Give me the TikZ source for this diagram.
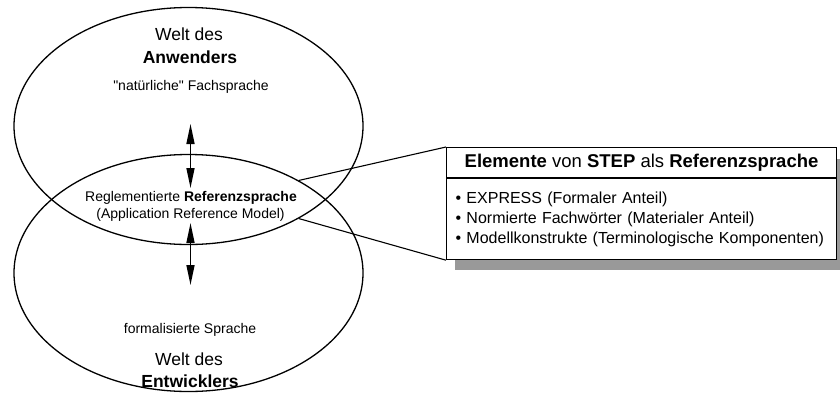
\documentclass[tikz,border=0pt]{standalone}
\usepackage{fontspec}
\setmainfont[Ligatures=TeXOff]{Liberation Sans}
\usepackage{tikz}
\usetikzlibrary{arrows.meta, positioning, shapes.geometric}

\begin{document}
\begin{tikzpicture}[
    x=1pt, y=-1pt,
    welt/.style={draw, ellipse, line width=1.3pt, inner sep=0pt,
                 minimum width=349pt, minimum height=237pt},
    txt/.style={font=\fontsize{14}{16}\selectfont, inner sep=0pt},
    big/.style={font=\fontsize{17.5}{20}\selectfont, inner sep=0pt},
    pfeil/.style={line width=1.5pt, {Triangle[length=20pt, width=8pt]}-{Triangle[length=20pt, width=8pt]}},
    kasten/.style={draw, fill=white, line width=1.1pt, minimum width=390pt, inner sep=0pt},
    link/.style={line width=1.1pt}
  ]
  \useasboundingbox (0,0) rectangle (840,394);
  % the two worlds
  \node[welt] (anw) at (188.5, 126) {};
  \node[welt] (ent) at (188.5, 273) {};
  % texts
  \node[big] (t1) at (189, 34) {Welt des};
  \node[big] (t2) at (190, 57) {\bfseries Anwenders};
  \node[txt] (t3) at (191, 87) {"natürliche" Fachsprache};
  \node[txt] (t4) at (191, 198) {Reglementierte \textbf{Referenzsprache}};
  \node[txt] (t5) at (190.5, 215) {(Application Reference Model)};
  \node[txt] (t6) at (190, 330) {formalisierte Sprache};
  \node[big] (t7) at (189, 359) {Welt des};
  \node[big] (t8) at (190, 381) {\bfseries Entwicklers};
  % double arrows
  \coordinate (a1) at (190.5, 124);
  \coordinate (a2) at (190.5, 188);
  \coordinate (b1) at (190.5, 223);
  \coordinate (b2) at (190.5, 285);
  \draw[pfeil] (a1) -- (a2);
  \draw[pfeil] (b1) -- (b2);
  % STEP box with shadow
  \fill[black!40] (455, 159) rectangle (840, 270);
  \node[kasten, minimum height=30pt, anchor=north west,
        font=\fontsize{18.5}{21}\selectfont] (titel) at (446, 147)
        {\textbf{Elemente} von \textbf{STEP} als \textbf{Referenzsprache}};
  \node[kasten, minimum height=81pt, below=0pt of titel, align=left,
        text width=372pt, font=\fontsize{16}{20}\selectfont] (inhalt)
        {• EXPRESS (Formaler Anteil)\\
         • Normierte Fachwörter (Materialer Anteil)\\
         • Modellkonstrukte (Terminologische Komponenten)};
  % connectors
  \draw[link] (ent.40) -- (titel.north west);
  \draw[link] (anw.-40) -- (inhalt.south west);
\end{tikzpicture}
\end{document}
